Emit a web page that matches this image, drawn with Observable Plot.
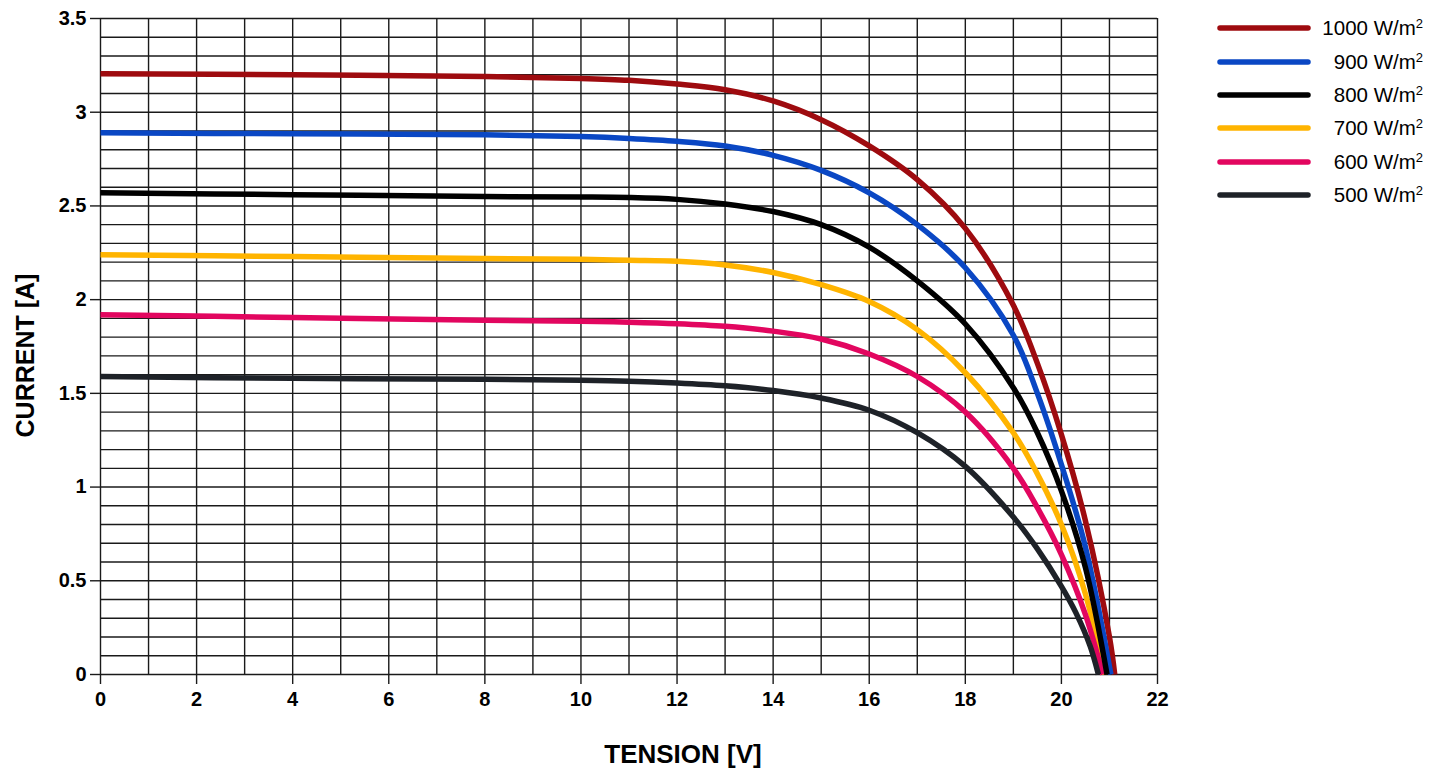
<!DOCTYPE html>
<html>
<head>
<meta charset="utf-8">
<script src="https://cdn.jsdelivr.net/npm/d3@7"></script>
<script src="https://cdn.jsdelivr.net/npm/@observablehq/plot@0.6"></script>
<style>
  html, body { margin: 0; padding: 0; background: #fff; }
  #wrap { position: relative; width: 1435px; height: 769px; font-family: "Liberation Sans", Arial, Helvetica, sans-serif; }
  #legend { position: absolute; left: 0; top: 0; }
  .row { position: absolute; left: 1212px; width: 212px; height: 24px; }
  .row svg { position: absolute; left: 0; top: 0; }
  .row span { position: absolute; right: 1px; top: 0; font-size: 20.5px; line-height: 24px; color: #000; }
  .row sup { font-size: 13px; vertical-align: 0; position: relative; top: -7px; }
</style>
</head>
<body>
<div id="wrap"><div id="legend"></div></div>
<script>
// ---- Data ----
const seriesNames = ["1000", "900", "800", "700", "600", "500"];
const seriesColors = ["#9e0b0f", "#0a47c4", "#000000", "#ffb400", "#e2065f", "#1e2228"];

const voltage1000 = [0, 4, 8, 10, 11, 12, 13, 14, 15, 16, 17, 18, 19, 19.5, 20, 20.5, 21, 21.11];
const current1000 = [3.205, 3.2, 3.19, 3.18, 3.17, 3.15, 3.12, 3.06, 2.96, 2.82, 2.64, 2.38, 1.97, 1.66, 1.28, 0.82, 0.2, 0];

const voltage900 = [0, 4, 8, 10, 11, 12, 13, 14, 15, 16, 17, 18, 19, 19.5, 20, 20.5, 21.03];
const current900 = [2.89, 2.885, 2.88, 2.87, 2.86, 2.845, 2.82, 2.77, 2.69, 2.57, 2.4, 2.17, 1.81, 1.5, 1.12, 0.68, 0];

const voltage800 = [0, 4, 8, 10, 11, 12, 13, 14, 15, 16, 17, 18, 19, 19.5, 20, 20.5, 20.95];
const current800 = [2.57, 2.56, 2.55, 2.548, 2.545, 2.535, 2.51, 2.47, 2.4, 2.28, 2.1, 1.87, 1.53, 1.29, 0.98, 0.57, 0];

const voltage700 = [0, 4, 8, 10, 11, 12, 13, 14, 15, 16, 17, 18, 19, 19.5, 20, 20.5, 20.9];
const current700 = [2.24, 2.23, 2.22, 2.215, 2.21, 2.205, 2.185, 2.145, 2.08, 1.99, 1.84, 1.61, 1.29, 1.07, 0.8, 0.43, 0];

const voltage600 = [0, 4, 8, 10, 11, 12, 13, 14, 15, 16, 17, 18, 19, 19.5, 20, 20.5, 20.86];
const current600 = [1.92, 1.905, 1.89, 1.885, 1.88, 1.872, 1.858, 1.832, 1.79, 1.71, 1.59, 1.4, 1.1, 0.89, 0.64, 0.32, 0];

const voltage500 = [0, 4, 8, 10, 11, 12, 13, 14, 15, 16, 17, 18, 19, 19.5, 20, 20.3, 20.6, 20.77];
const current500 = [1.59, 1.58, 1.575, 1.57, 1.565, 1.555, 1.54, 1.515, 1.475, 1.41, 1.29, 1.11, 0.84, 0.67, 0.47, 0.33, 0.15, 0];

const xTicks = [0, 2, 4, 6, 8, 10, 12, 14, 16, 18, 20, 22];
const yTicks = [0, 0.5, 1, 1.5, 2, 2.5, 3, 3.5];
const yTickLabels = ["0", "0.5", "1", "1.5", "2", "2.5", "3", "3.5"];
const xGrid = d3.range(0, 23);
const yGrid = d3.range(0, 36).map(i => i / 10);

// ---- Build table ----
const voltages = [voltage1000, voltage900, voltage800, voltage700, voltage600, voltage500];
const currents = [current1000, current900, current800, current700, current600, current500];
const rows = seriesNames.flatMap((s, k) => voltages[k].map((v, i) => ({series: s, v, i: currents[k][i]})));
const drawOrder = ["1000", "900", "700", "600", "500", "800"];

const lineMarks = drawOrder.map(s => Plot.line(rows.filter(d => d.series === s), {
  x: "v", y: "i", stroke: seriesColors[seriesNames.indexOf(s)],
  strokeWidth: 5.5, curve: "catmull-rom", strokeLinecap: "butt", strokeLinejoin: "round"
}));

const chart = Plot.plot({
  width: 1435,
  height: 769,
  marginLeft: 100,
  marginRight: 278,
  marginTop: 18,
  marginBottom: 95,
  style: {fontFamily: "Liberation Sans, Arial, Helvetica, sans-serif", fontSize: "20px", fontWeight: "bold", color: "#000", background: "#fff"},
  x: {domain: [0, 22]},
  y: {domain: [0, 3.5]},
  marks: [
    Plot.ruleY(yGrid, {stroke: "#1a1a1a", strokeWidth: 1.4}),
    Plot.ruleX(xGrid, {stroke: "#1a1a1a", strokeWidth: 1.4}),
    Plot.axisX(xTicks, {tickSize: 10, tickPadding: 7, label: null, stroke: "#1a1a1a", strokeWidth: 1.4, fontWeight: "bold", fontSize: 20}),
    Plot.axisY(yTicks, {tickSize: 10, tickPadding: 4, label: null, stroke: "#1a1a1a", strokeWidth: 1.4, fontWeight: "bold", fontSize: 20,
      tickFormat: d => yTickLabels[yTicks.indexOf(d)]}),
    ...lineMarks,
    Plot.text(["TENSION [V]"], {frameAnchor: "bottom", lineAnchor: "middle", textAnchor: "middle", dx: 54, dy: 80, fontSize: 26, fontWeight: "bold"}),
    Plot.text(["CURRENT [A]"], {frameAnchor: "left", lineAnchor: "middle", textAnchor: "middle", rotate: -90, dx: -75, dy: 9, fontSize: 25, fontWeight: "bold"})
  ]
});
document.getElementById("wrap").prepend(chart);

// ---- Legend ----
const legendY = [27.7, 61.5, 95, 127.7, 161.5, 195];
const legend = document.getElementById("legend");
seriesNames.forEach((s, k) => {
  const row = document.createElement("div");
  row.className = "row";
  row.style.top = (legendY[k] - 12) + "px";
  row.innerHTML = `<svg width="100" height="24"><line x1="8" x2="96" y1="12" y2="12" stroke="${seriesColors[k]}" stroke-width="5.5" stroke-linecap="round"/></svg><span>${s} W/m<sup>2</sup></span>`;
  legend.appendChild(row);
});
</script>
</body>
</html>
